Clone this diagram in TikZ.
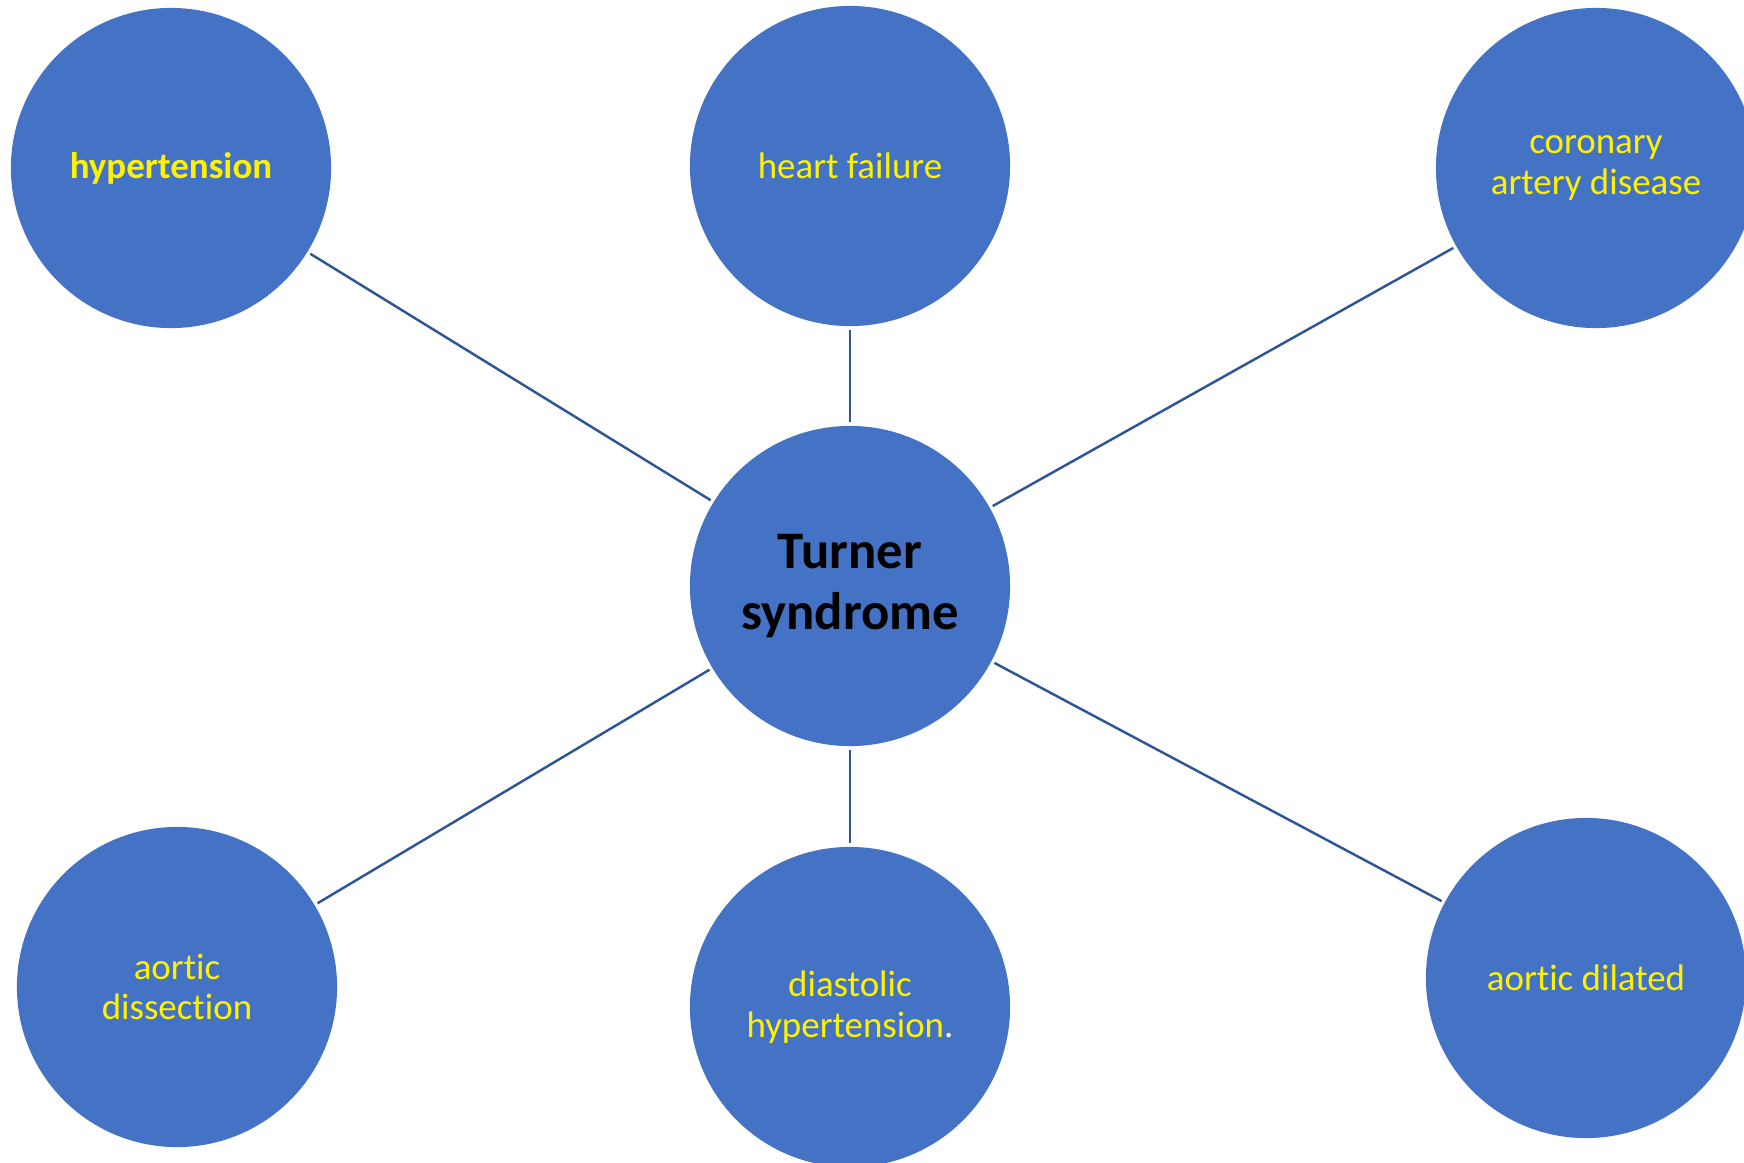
\documentclass[tikz,border=0pt]{standalone}
\usepackage{fontspec}
\setmainfont[RawFeature={-liga;-clig;-calt;-dlig}]{Carlito}
\definecolor{bubble}{HTML}{4472C4}
\definecolor{spoke}{HTML}{2F5597}

\begin{document}
\begin{tikzpicture}[x=0.01cm,y=-0.01cm]
    \tikzstyle{bubble node}=[circle,fill=bubble,minimum size=3.2cm,inner sep=0pt,outer sep=1pt,align=center,text=yellow,font=\fontsize{10.5}{11.5}\selectfont]
    \tikzstyle{hub node}=[bubble node,text=black,font=\fontsize{15}{17.3}\selectfont\bfseries]
    \tikzstyle{spoke line}=[spoke,line width=0.7pt]
    \useasboundingbox (0,0) rectangle (1744,1163);
    \clip (0,0) rectangle (1744,1163);
    \node[hub node] (TS) at (850,586) {Turner\\syndrome};
    \node[bubble node,font=\fontsize{10.5}{11.5}\selectfont\bfseries] (HT) at (171,168) {hypertension};
    \node[bubble node] (HF) at (850,166) {heart failure};
    \node[bubble node] (CAD) at (1596,168) {coronary\\artery disease};
    \node[bubble node] (AD) at (177,987) {aortic\\dissection};
    \node[bubble node] (DH) at (850,1007) {diastolic\\hypertension{\color{white}.}};
    \node[bubble node] (ADL) at (1586,978) {aortic dilated};
    \draw[spoke line] (TS) -- (HT);
    \draw[spoke line] (TS) -- (HF);
    \draw[spoke line] (TS) -- (CAD);
    \draw[spoke line] (TS) -- (AD);
    \draw[spoke line] (TS) -- (DH);
    \draw[spoke line] (TS) -- (ADL);
\end{tikzpicture}
\end{document}
